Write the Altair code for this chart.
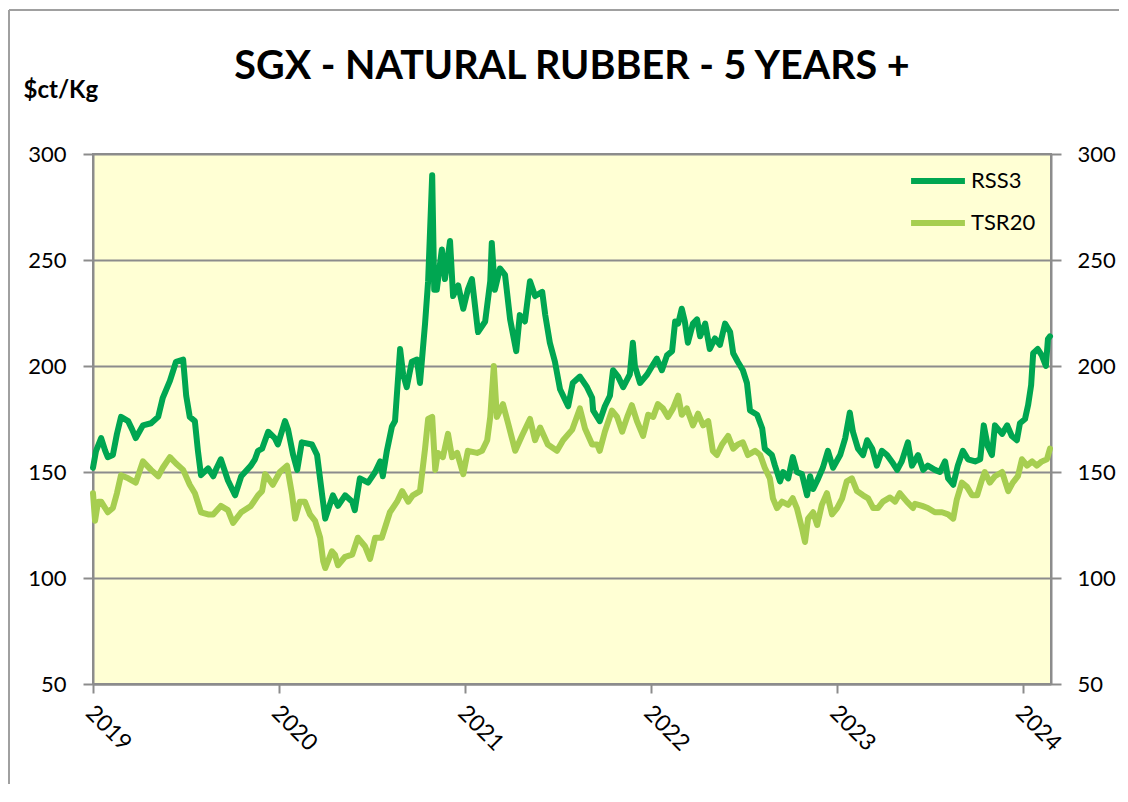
import altair as alt
import pandas as pd

# ---- data (days since 2019-01-01, price in US cents/kg) ----
rss3_day = [0, 6, 16, 24, 29, 39, 47, 55, 69, 77,
            84, 98, 114, 128, 137, 151, 163, 177, 183, 190,
            200, 206, 212, 226, 236, 243, 251, 265, 279, 291,
            310, 318, 324, 332, 344, 357, 363, 377, 383, 393,
            401, 410, 430, 440, 450, 456, 471, 481, 495, 509,
            514, 524, 540, 554, 564, 569, 577, 587, 593, 603,
            609, 616, 626, 636, 642, 652, 658, 666, 670, 675,
            685, 691, 701, 707, 717, 727, 736, 744, 756, 770,
            780, 783, 789, 799, 809, 819, 831, 838, 848, 858,
            868, 882, 888, 897, 907, 917, 933, 942, 956, 970,
            980, 982, 995, 1005, 1015, 1021, 1031, 1041, 1054, 1060,
            1064, 1074, 1088, 1098, 1107, 1117, 1127, 1137, 1143, 1149,
            1156, 1162, 1168, 1178, 1186, 1192, 1202, 1211, 1221, 1231,
            1241, 1251, 1257, 1266, 1276, 1284, 1290, 1304, 1314, 1319,
            1333, 1339, 1349, 1355, 1365, 1374, 1382, 1392, 1402, 1408,
            1414, 1424, 1433, 1443, 1453, 1467, 1477, 1486, 1492, 1502,
            1512, 1520, 1530, 1539, 1549, 1559, 1571, 1579, 1588, 1600,
            1608, 1620, 1630, 1639, 1653, 1663, 1673, 1679, 1689, 1698,
            1708, 1718, 1732, 1742, 1749, 1757, 1765, 1771, 1785, 1795,
            1804, 1814, 1820, 1830, 1836, 1842, 1846, 1855, 1863, 1871,
            1875, 1879]
rss3_val = [152, 160, 166, 160, 157, 158, 168, 176, 174, 170,
            166, 172, 173, 176, 185, 193, 202, 203, 186, 176,
            174, 160, 148.5, 151.7, 148, 152, 156, 146, 139, 148,
            153, 156, 160, 161, 169, 166, 163, 174, 170, 158,
            151, 164, 163, 158, 139, 128, 139, 134, 139, 136,
            132, 147, 145, 150, 155, 148, 160, 171.5, 174, 208,
            196, 190, 202, 203, 192, 220, 240, 290, 236, 236,
            255, 241, 259, 233, 238, 227, 236, 241, 216, 221,
            240, 258, 236, 246, 243, 222, 207, 224, 221, 240,
            233, 235, 224, 211, 202, 189, 181, 192, 195, 190,
            185, 179, 174, 181, 186, 198, 195, 190, 196, 211,
            200, 192, 196, 200, 203.5, 198, 205, 207, 221, 220,
            227, 221, 211, 220, 222, 214, 220, 208, 213, 210,
            220, 216, 206, 202, 198, 192, 179, 177, 170.5, 161,
            158, 153, 145.6, 150, 147, 157, 150, 149, 139, 148,
            142, 147, 152, 160, 152, 158, 166, 178, 169, 161,
            158, 165, 161, 153, 160, 158, 154, 151, 155, 164,
            153, 158, 151, 153, 151, 150, 155, 147, 144, 153,
            160, 156, 155, 156, 172, 162, 158, 172, 168, 172,
            167, 165, 173, 175, 181.5, 191, 206, 208, 205, 200,
            212.7, 214]

tsr20_day = [0, 4, 10, 16, 29, 39, 47, 55, 69, 84,
             98, 114, 128, 137, 151, 163, 177, 190, 200, 212,
             226, 236, 251, 265, 275, 291, 310, 324, 332, 338,
             353, 367, 381, 391, 397, 406, 416, 426, 436, 446,
             452, 456, 469, 475, 481, 495, 509, 520, 534, 544,
             554, 567, 583, 597, 607, 619, 628, 642, 652, 658,
             666, 672, 677, 687, 697, 705, 715, 727, 736, 754,
             764, 774, 780, 787, 793, 805, 815, 829, 842, 858,
             868, 878, 893, 911, 923, 941, 956, 966, 980, 990,
             995, 1005, 1019, 1029, 1039, 1049, 1058, 1068, 1080, 1090,
             1100, 1109, 1119, 1129, 1139, 1149, 1156, 1166, 1178, 1188,
             1198, 1208, 1217, 1225, 1235, 1247, 1257, 1266, 1276, 1286,
             1300, 1310, 1319, 1329, 1335, 1343, 1353, 1365, 1374, 1382,
             1392, 1398, 1404, 1414, 1422, 1431, 1441, 1451, 1461, 1471,
             1480, 1490, 1500, 1512, 1522, 1532, 1541, 1551, 1565, 1575,
             1584, 1598, 1610, 1614, 1628, 1639, 1653, 1667, 1679, 1689,
             1696, 1706, 1716, 1726, 1736, 1745, 1751, 1761, 1771, 1785,
             1797, 1806, 1816, 1824, 1834, 1844, 1853, 1863, 1873, 1879]
tsr20_val = [140, 127, 136, 136, 131, 133, 140, 148.5, 147, 145,
             155, 151, 148, 152, 157, 154, 151, 144, 140, 131,
             130, 130, 134, 132, 126, 131, 134, 139, 141, 149,
             144, 150, 153, 139, 128, 136, 136, 130, 127, 119,
             108, 104.7, 112.6, 111, 106, 110, 111, 119, 115, 109,
             119, 119, 131, 136, 141, 136, 139, 141, 161, 175,
             176, 151, 159, 157, 168, 157, 159, 149, 160, 159,
             160, 165, 176, 200, 176, 182, 173, 160, 167, 175,
             165, 171, 163, 160, 165, 170, 180, 170.5, 163, 163,
             160, 169, 179, 176, 169, 176, 181.5, 174, 167, 177,
             176, 182, 180, 176, 180, 186, 177, 180, 172, 177.5,
             172, 174, 160, 158, 163, 167, 161, 163, 164, 158,
             160, 158, 152, 147, 137.6, 133, 136, 134.5, 137.6, 133,
             123.5, 117, 128, 131, 125, 134.5, 140, 130, 133, 137.6,
             145.6, 147, 141, 139, 137.6, 133, 133, 136, 138, 136,
             140, 136, 133, 135, 134, 133, 131, 131, 130, 128,
             137, 145, 143, 139, 139, 146, 150, 145, 148, 150,
             141, 145, 148, 156, 153, 155, 153, 155, 156, 161]

series_names = ["RSS3", "TSR20"]
series_colors = ["#00A651", "#A6CE50"]
y_ticks = [50, 100, 150, 200, 250, 300]
year_ticks = [2019, 2020, 2021, 2022, 2023, 2024]

assert len(rss3_day) == len(rss3_val)
assert len(tsr20_day) == len(tsr20_val)

base = pd.Timestamp("2019-01-01")


def to_dates(days):
    return (base + pd.to_timedelta(days, unit="D")).strftime("%Y-%m-%d")


df = pd.concat([
    pd.DataFrame({"date": to_dates(rss3_day), "value": rss3_val, "series": "RSS3"}),
    pd.DataFrame({"date": to_dates(tsr20_day), "value": tsr20_val, "series": "TSR20"}),
], ignore_index=True)

FONT = "Lato"
GRID = "#8c8c8c"

W, H = 958, 530
PAD = {"left": 85, "top": 146, "right": 69, "bottom": 100}

x_enc = alt.X(
    "date:T",
    scale=alt.Scale(
        type="utc",
        domain=[alt.DateTime(year=2019, month=1, date=1, utc=True),
                alt.DateTime(year=2024, month=2, date=25, utc=True)],
    ),
    axis=alt.Axis(
        values=[alt.DateTime(year=y, month=1, date=1, utc=True) for y in year_ticks],
        format="%Y", labelAngle=45, labelAlign="left", labelBaseline="middle",
        labelPadding=16, labelOffset=-4, labelFont=FONT, labelFontSize=23,
        labelColor="black", tickColor=GRID, tickWidth=2, tickSize=9,
        domainColor=GRID, domainWidth=2, grid=False, title="",
    ),
)

y_scale = alt.Scale(domain=[50, 300], nice=False)

lines = alt.Chart(df).mark_line(strokeWidth=6, strokeJoin="round", strokeCap="round").encode(
    x=x_enc,
    y=alt.Y(
        "value:Q", scale=y_scale,
        axis=alt.Axis(
            values=y_ticks, grid=True, gridColor=GRID, gridWidth=2,
            domainColor=GRID, domainWidth=2, tickColor=GRID, tickWidth=2, tickSize=10,
            labelFont=FONT, labelFontSize=22, labelColor="black", labelPadding=17,
            title="$ct/Kg", titleAngle=0, titleX=-70, titleY=-64, titleAlign="left",
            titleBaseline="middle", titleFont=FONT, titleFontSize=24,
            titleFontWeight="bold", titleColor="black",
        ),
    ),
    color=alt.Color(
        "series:N",
        scale=alt.Scale(domain=series_names, range=series_colors),
        legend=alt.Legend(
            title="", orient="none", legendX=815, legendY=-3,
            symbolType="stroke", symbolSize=2900, symbolStrokeWidth=6,
            labelFont=FONT, labelFontSize=22, labelColor="black",
            rowPadding=-11, labelOffset=3,
        ),
    ),
)

right_axis = alt.Chart(df).mark_line(opacity=0).encode(
    x=alt.X("date:T"),
    y=alt.Y(
        "value:Q", scale=y_scale,
        axis=alt.Axis(
            orient="right", values=y_ticks, grid=False,
            domainColor=GRID, domainWidth=2, tickColor=GRID, tickWidth=2, tickSize=10,
            labelFont=FONT, labelFontSize=22, labelColor="black", labelPadding=16,
            title="",
        ),
    ),
    detail="series:N",
)

frame_df = pd.DataFrame({"k": [0]})
frame_top = alt.Chart(frame_df).mark_rule(color="#a0a0a0", strokeWidth=2).encode(
    x=alt.value(-84), x2=alt.value(1026), y=alt.value(-144)
)
frame_left = alt.Chart(frame_df).mark_rule(color="#a0a0a0", strokeWidth=2).encode(
    x=alt.value(-84), y=alt.value(-144), y2=alt.value(630)
)

chart = alt.layer(lines, right_axis, frame_top, frame_left).resolve_scale(
    y="independent"
).properties(
    width=W, height=H,
    title=alt.TitleParams(
        "SGX - NATURAL RUBBER - 5 YEARS +", font=FONT, fontSize=39.5,
        fontWeight="bold", color="black", anchor="middle", frame="group",
        offset=0, dy=78,
    ),
    autosize=alt.AutoSizeParams(type="none"),
    padding=PAD,
    background="white",
).configure_view(
    fill="#FFFFD4", stroke=GRID, strokeWidth=2
)

chart.save("out.html", embed_options={"renderer": "svg", "actions": False})
